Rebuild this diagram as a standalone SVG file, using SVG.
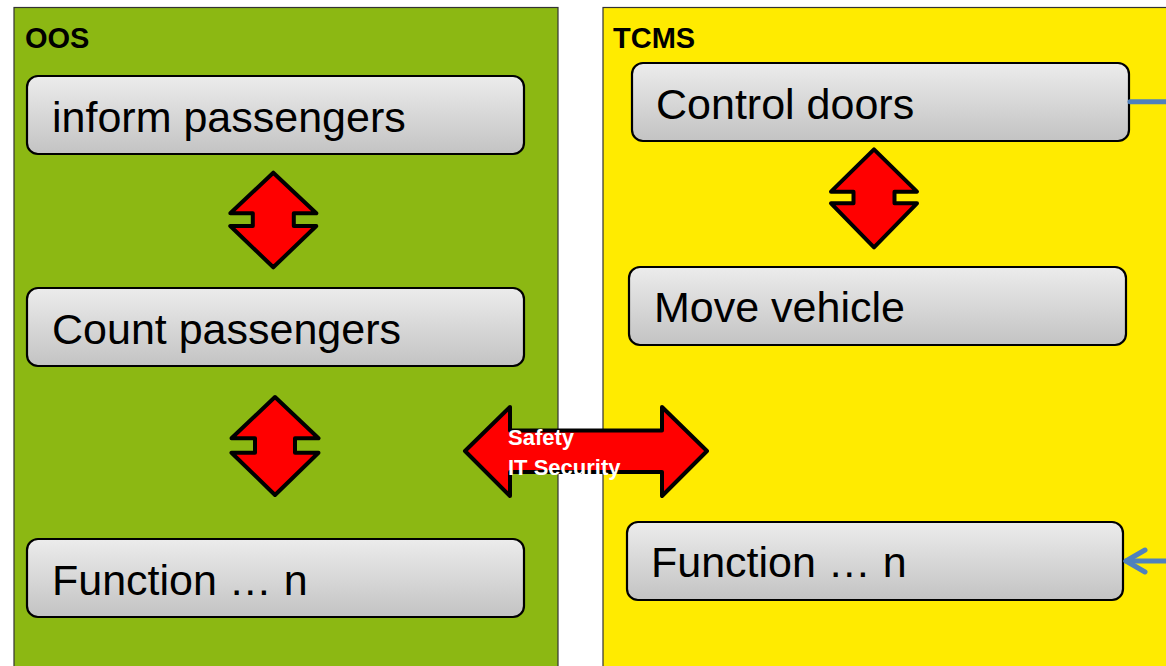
<svg xmlns="http://www.w3.org/2000/svg" width="1166" height="666" viewBox="0 0 1166 666">
<style>
.panel{stroke:#333;stroke-width:1.2}
.box{fill:url(#g);stroke:#000;stroke-width:2.2}
.lbl{font-family:"Liberation Sans",Arial,sans-serif;font-size:43px;fill:#000}
.title{font-family:"Liberation Sans",Arial,sans-serif;font-size:29px;font-weight:bold;fill:#000}
.red{fill:#ff0000;stroke:#000;stroke-width:4;stroke-linejoin:round}
.wt{font-family:"Liberation Sans",Arial,sans-serif;font-size:22px;font-weight:bold;fill:#fff}
.blue{stroke:#4f81bd;stroke-width:5;fill:none;stroke-linecap:round;stroke-linejoin:round}
</style>
<defs>
<linearGradient id="g" x1="0" y1="0" x2="0" y2="1">
<stop offset="0" stop-color="#ececec"/>
<stop offset="1" stop-color="#c3c3c3"/>
</linearGradient>
<marker id="ah" markerUnits="userSpaceOnUse" markerWidth="30" markerHeight="30" refX="0" refY="0" orient="auto" overflow="visible">
<path d="M-19,-11 L0,0 L-19,11" class="blue"/>
</marker>
</defs>
<rect width="1166" height="666" fill="#fff"/>
<g id="oos">
<rect class="panel" x="14" y="7.5" width="544" height="670" fill="#8cb813"/>
<text class="title" x="25" y="48">OOS</text>
</g>
<g id="tcms">
<rect class="panel" x="603" y="7.5" width="580" height="670" fill="#ffeb00"/>
<text class="title" x="613" y="48">TCMS</text>
</g>
<g id="inform-passengers">
<rect class="box" x="27" y="76" width="497" height="78" rx="11"/>
<text class="lbl" x="52" y="132">inform passengers</text>
</g>
<g id="count-passengers">
<rect class="box" x="27" y="288" width="497" height="78" rx="11"/>
<text class="lbl" x="52" y="344">Count passengers</text>
</g>
<g id="function-n-oos">
<rect class="box" x="27" y="539" width="497" height="78" rx="11"/>
<text class="lbl" x="52" y="595">Function … n</text>
</g>
<g id="control-doors">
<rect class="box" x="632" y="63" width="497" height="78" rx="11"/>
<text class="lbl" x="656" y="119">Control doors</text>
</g>
<g id="move-vehicle">
<rect class="box" x="629" y="267" width="497" height="78" rx="11"/>
<text class="lbl" x="654" y="322">Move vehicle</text>
</g>
<g id="function-n-tcms">
<rect class="box" x="627" y="522" width="496" height="78" rx="11"/>
<text class="lbl" x="651" y="577">Function … n</text>
</g>
<g id="connectors">
<path class="red" d="M273.3,172.7 L316.3,213.3 L293.8,213.3 L293.8,226 L316.3,226 L273.3,267.3 L230.3,226 L252.8,226 L252.8,213.3 L230.3,213.3 Z"/>
<path class="red" d="M275,397 L318.5,438.3 L295,438.3 L295,452.7 L318.5,452.7 L275,495 L231.5,452.7 L255,452.7 L255,438.3 L231.5,438.3 Z"/>
<path class="red" d="M874,149.3 L917,191.7 L894.5,191.7 L894.5,203.3 L917,203.3 L874,247.3 L831,203.3 L853.5,203.3 L853.5,191.7 L831,191.7 Z"/>
<g id="safety-arrow">
<path class="red" d="M465,451 L510,407 L510,430.5 L662,430.5 L662,407 L707,451 L662,496 L662,472 L510,472 L510,496 Z"/>
<text class="wt" x="508" y="445">Safety</text>
<text class="wt" x="508" y="475">IT Security</text>
</g>
<path class="blue" d="M1130,101.7 H1170" stroke-linecap="butt"/>
<path class="blue" d="M1170,561 H1126" marker-end="url(#ah)"/>
</g>
</svg>
